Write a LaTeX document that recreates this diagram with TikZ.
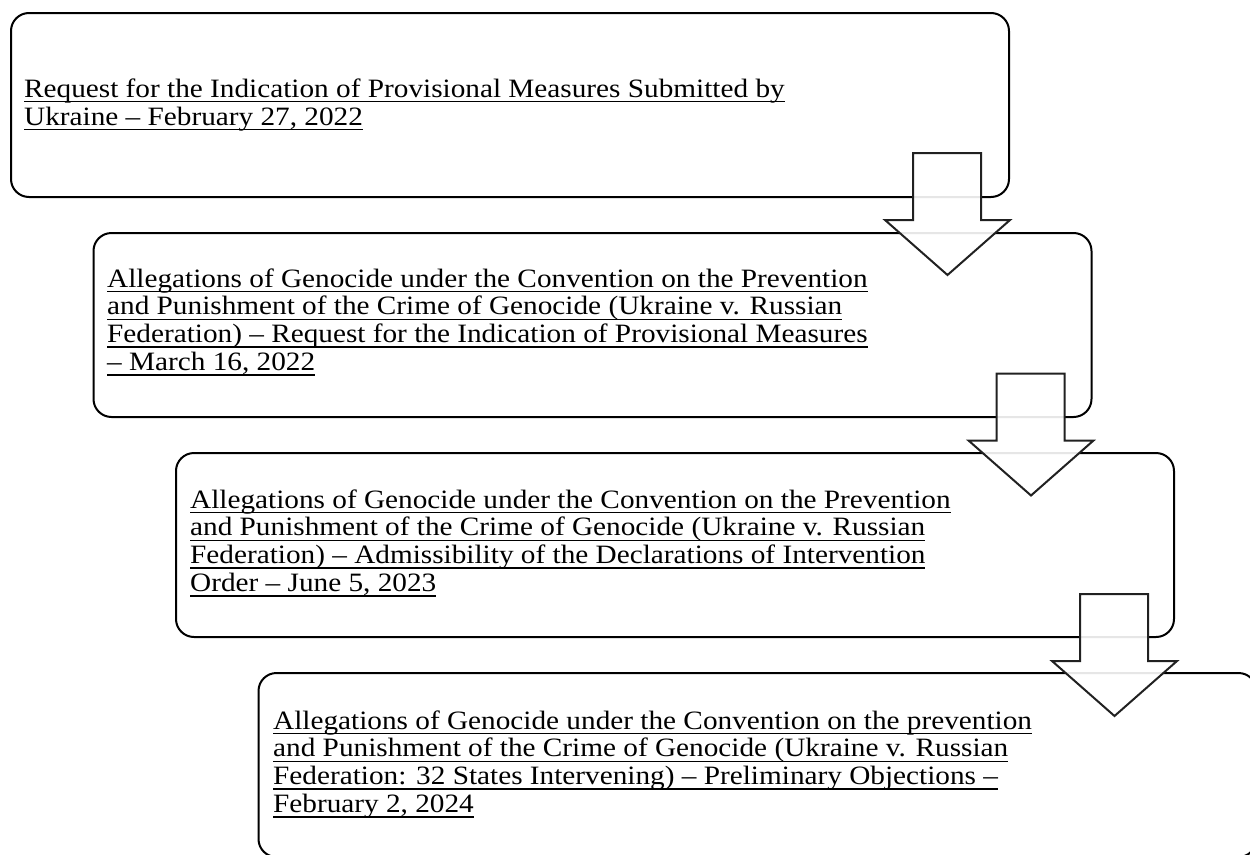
\documentclass[tikz,border=0pt]{standalone}
\usepackage{fontspec}
\setmainfont[FakeStretch=1.104]{Liberation Serif}
\newsavebox\ulbox
\newcommand\ulline[1]{\leavevmode\sbox\ulbox{#1}\rlap{\rule[-5.1pt]{\wd\ulbox}{1.4pt}}\usebox\ulbox}
\tikzset{
  box/.style={draw=black, line width=2pt, rounded corners=18pt, minimum width=998pt,
    minimum height=184pt, anchor=north west, inner sep=0pt},
  txt/.style={anchor=base west, align=left, inner sep=0pt,
    font=\fontsize{26.5}{27.8}\selectfont},
  blockarrow/.style={draw=black!87, line width=2pt, fill=white, fill opacity=0.9, line join=miter}
}
\begin{document}
\begin{tikzpicture}[x=1pt,y=-1pt]
\useasboundingbox (0,0) rectangle (1250,854);
\clip (0,0) rectangle (1250,854);
\node[box] (b1) at (10,12) {};
\node[box] (b2) at (92.5,232) {};
\node[box] (b3) at (175,452) {};
\node[box] (b4) at (257.5,672) {};
\foreach \k in {0,1,2}{
  \begin{scope}[shift={(83.5*\k,220.5*\k)}]
    \draw[blockarrow] (913,153) -- (981,153) -- (981,220) -- (1010,220) -- (947.5,275)
      -- (885,220) -- (913,220) -- cycle;
  \end{scope}
}
\node[txt] (t1) at (24,125) {\ulline{Request for the Indication of Provisional Measures Submitted by}\\
\ulline{Ukraine – February 27, 2022}};
\node[txt] (t2) at (107,370.5) {\ulline{Allegations of Genocide under the Convention on the Prevention}\\
\ulline{and Punishment of the Crime of Genocide (Ukraine v. Russian}\\
\ulline{Federation) – Request for the Indication of Provisional Measures}\\
\ulline{– March 16, 2022}};
\node[txt] (t3) at (190,591.5) {\ulline{Allegations of Genocide under the Convention on the Prevention}\\
\ulline{and Punishment of the Crime of Genocide (Ukraine v. Russian}\\
\ulline{Federation) – Admissibility of the Declarations of Intervention}\\
\ulline{Order – June 5, 2023}};
\node[txt] (t4) at (273,812.5) {\ulline{Allegations of Genocide under the Convention on the prevention}\\
\ulline{and Punishment of the Crime of Genocide (Ukraine v. Russian}\\
\ulline{Federation: 32 States Intervening) – Preliminary Objections –}\\
\ulline{February 2, 2024}};
\end{tikzpicture}
\end{document}
